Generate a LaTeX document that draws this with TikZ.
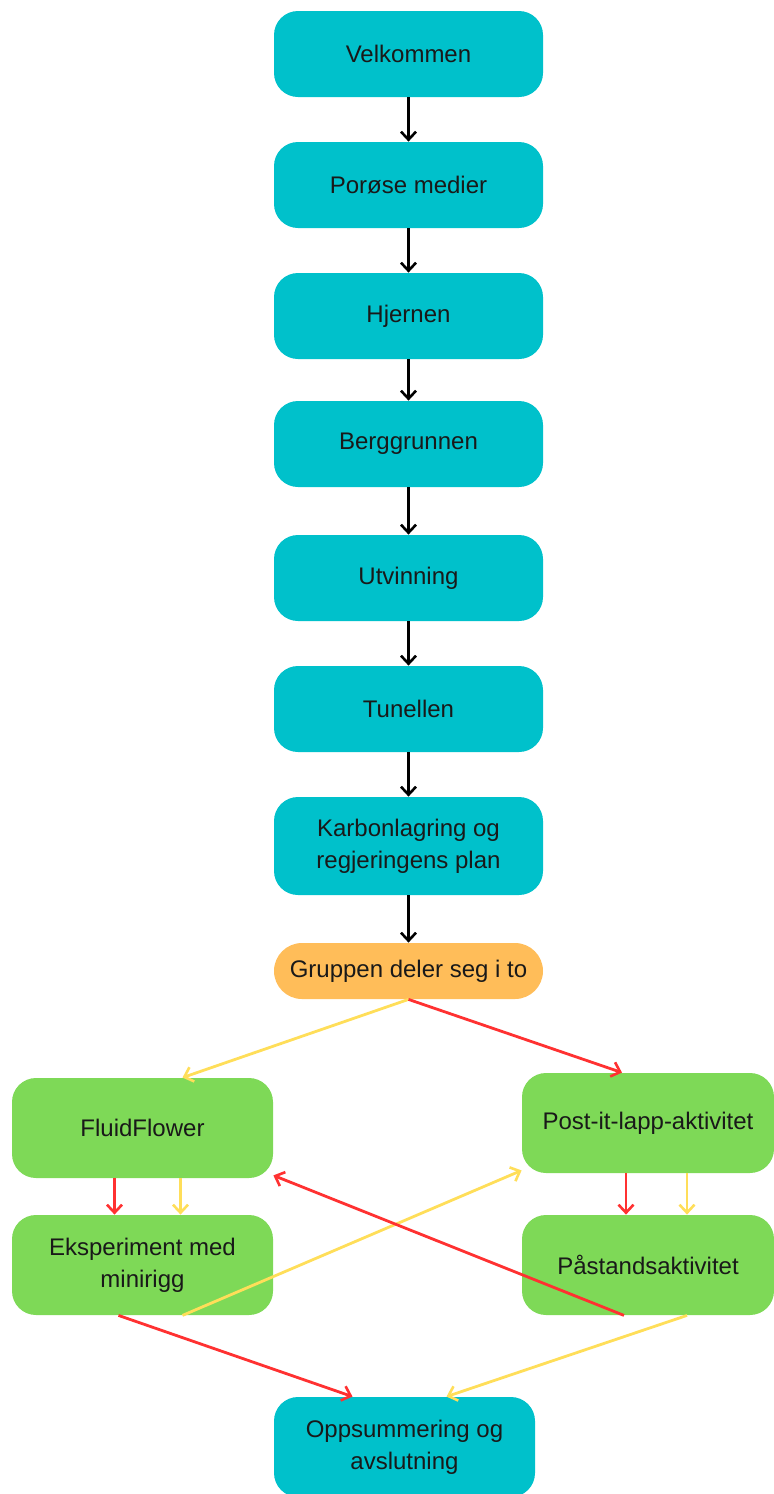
\documentclass[tikz,border=0pt]{standalone}
\usepackage{fontspec}
\setmainfont{Liberation Sans}
\usepackage{xcolor}
\usetikzlibrary{arrows.meta,positioning}
\definecolor{tealbox}{HTML}{00C1CB}
\definecolor{orangebox}{HTML}{FFBD59}
\definecolor{greenbox}{HTML}{7ED957}
\definecolor{redline}{HTML}{FF3131}
\definecolor{yellowline}{HTML}{FFDE59}
\tikzset{
    every node/.style={font=\fontsize{12}{16}\selectfont, text=black!90},
    >={Straight Barb[length=4pt,width=7.5pt,line width=1.3pt]},
    mainbox/.style={fill=tealbox, rounded corners=12pt, minimum width=134.5pt, minimum height=43pt, align=center},
    splitbox/.style={fill=orangebox, rounded corners=14pt, minimum width=134.5pt, minimum height=28pt},
    actbox/.style={fill=greenbox, rounded corners=12pt, minimum height=50pt, align=center},
    flow/.style={->, line width=1.5pt, black},
    redflow/.style={->, line width=1.4pt, redline},
    yellowflow/.style={->, line width=1.4pt, yellowline}
}

\begin{document}
\begin{tikzpicture}[x=0.5pt,y=-0.5pt]
            \clip (0,0) rectangle (774,1494);

            % Draw main sequence
            \node[mainbox] (velk) at (408.5,54) {Velkommen};
            \node[mainbox] (poros) at (408.5,185) {Porøse medier};
            \node[mainbox] (hjerne) at (408.5,316) {Hjernen};
            \node[mainbox] (berg) at (408.5,444) {Berggrunnen};
            \node[mainbox] (utvin) at (408.5,578) {Utvinning};
            \node[mainbox] (tunell) at (408.5,709) {Tunellen};
            \node[mainbox, minimum height=49pt] (karbon) at (408.5,846) {Karbonlagring og\\regjeringens plan};
            \node[splitbox] (gruppe) at (408.5,971) {Gruppen deler seg i to};

            \foreach \a/\b in {velk/poros,poros/hjerne,hjerne/berg,berg/utvin,utvin/tunell,tunell/karbon,karbon/gruppe}
                \draw[flow] (\a.south) -- (\b.north);

            % Draw the two group activities
            \node[actbox, minimum width=130.5pt] (fluid) at (142.5,1128) {FluidFlower};
            \node[actbox, minimum width=130.5pt] (ekspr) at (142.5,1265) {Eksperiment med\\minirigg};
            \node[actbox, minimum width=126pt] (postit) at (648,1123) {Post-it-lapp-aktivitet};
            \node[actbox, minimum width=126pt] (pastand) at (648,1265) {Påstandsaktivitet};
            \node[mainbox, minimum width=130.5pt, minimum height=50pt] (oppsum) at (404.5,1447) {Oppsummering og\\avslutning};

            % Yellow group route
            \draw[yellowflow] (gruppe.south) -- ([xshift=20pt]fluid.north);
            \draw[yellowflow] ([xshift=19pt]fluid.south) -- ([xshift=19pt]ekspr.north);
            \draw[yellowflow] ([xshift=20pt]ekspr.south) -- ([yshift=1.5pt]postit.south west);
            \draw[yellowflow] ([xshift=19.5pt]postit.south) -- ([xshift=19.5pt]pastand.north);
            \draw[yellowflow] ([xshift=19.5pt]pastand.south) -- ([xshift=21pt]oppsum.north);

            % Red group route
            \draw[redflow] (gruppe.south) -- ([xshift=-13pt]postit.north);
            \draw[redflow] ([xshift=-11pt]postit.south) -- ([xshift=-11pt]pastand.north);
            \draw[redflow] ([xshift=-12pt]pastand.south) -- ([yshift=1.5pt]fluid.south east);
            \draw[redflow] ([xshift=-14pt]fluid.south) -- ([xshift=-14pt]ekspr.north);
            \draw[redflow] ([xshift=-12pt]ekspr.south) -- ([xshift=-26pt]oppsum.north);
        \end{tikzpicture}
\end{document}
